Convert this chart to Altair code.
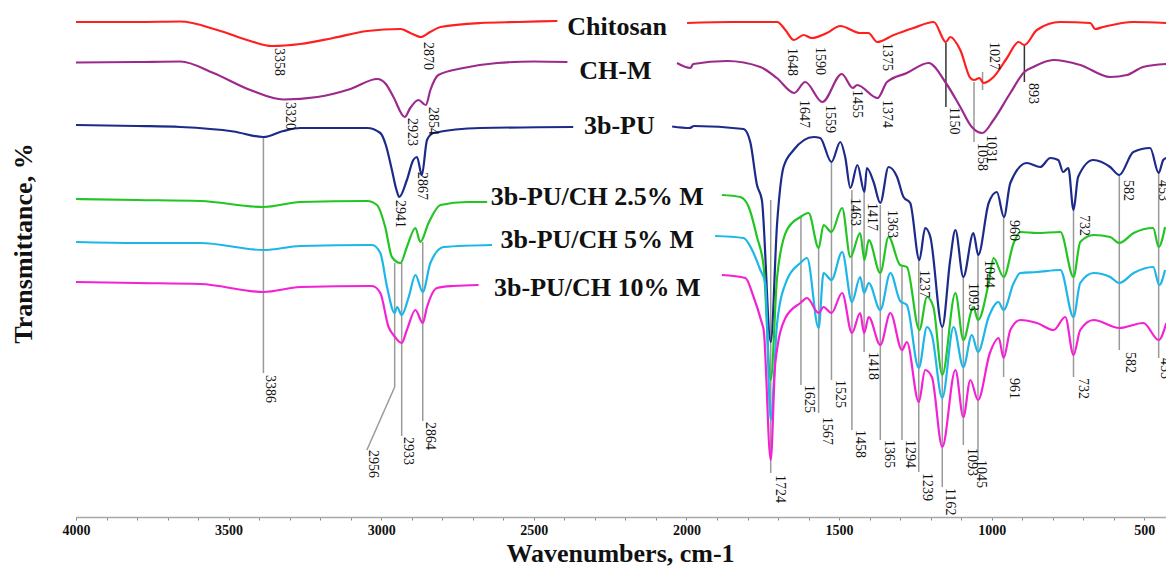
import altair as alt
import pandas as pd

# ---------------- spectra (wavenumber, transmittance in arbitrary offset units) -------------
chitosan_1_wn = [4000, 3800, 3658, 3537, 3429, 3358, 3265, 3157, 3046, 2937, 2905, 2870, 2840, 2806, 2675, 2550, 2423]
chitosan_1_t = [495, 495, 495.5, 487, 476, 471, 473, 479, 486, 488, 484, 480, 485, 490, 494, 495, 496]
chitosan_2_wn = [1998, 1850, 1703, 1676, 1648, 1616, 1590, 1540, 1496, 1431, 1404, 1375, 1321, 1256, 1190, 1150, 1136,
                 1103, 1070, 1058, 1040, 1027, 994, 950, 912, 893, 852, 776, 677, 661, 635, 536, 428]
chitosan_2_t = [494, 495, 495, 487, 477, 482, 479, 484, 491, 484, 484, 475, 482, 489, 495, 475, 480,
                467, 439, 437, 439, 434, 440, 459, 475, 472, 487, 495, 494, 488, 490, 495, 494]

chm_1_wn = [4000, 3800, 3658, 3550, 3429, 3320, 3209, 3101, 3013, 2985, 2960, 2923, 2905, 2878, 2854, 2839, 2813, 2731, 2620, 2500, 2390]
chm_1_t = [454.5, 455, 455.5, 444, 427, 417.5, 420, 428, 438, 433, 420, 400, 409, 417, 412, 427, 442, 449, 454, 455.5, 455]
chm_2_wn = [2031, 1987, 1978, 1867, 1758, 1704, 1647, 1611, 1555, 1491, 1455, 1441, 1374, 1343, 1278, 1207, 1150, 1103,
            1065, 1031, 994, 939, 893, 864, 798, 710, 612, 557, 504, 428]
chm_2_t = [454, 449, 453, 456, 450, 439, 424, 435, 415, 443, 429, 432, 419, 435, 444, 454, 434, 410,
           390, 384, 397, 424, 445, 450, 457, 452, 440, 442, 450, 453]

pu_1_wn = [4000, 3800, 3658, 3484, 3386, 3321, 3265, 3046, 3003, 2985, 2965, 2950, 2941, 2916, 2895, 2883, 2867, 2850, 2829, 2675, 2371]
pu_1_t = [392, 391, 390, 385.5, 380, 386, 389, 389, 384, 372, 347, 327, 320, 337, 357, 360, 342, 377, 384, 389, 390]
pu_2_wn = [2047, 1990, 1975, 1813, 1791, 1769, 1753, 1724, 1703, 1682, 1649, 1583, 1562, 1525, 1496, 1480, 1463, 1440, 1417, 1409,
           1387, 1365, 1338, 1310, 1289, 1267, 1237, 1218, 1201, 1162, 1136, 1119, 1093, 1060, 1044, 1010, 983, 960, 939, 885,
           841, 808, 782, 766, 749, 732, 717, 667, 612, 582, 536, 481, 453, 438, 428]
pu_2_t = [390.5, 389, 391, 388, 375, 332, 317, 175, 294, 350, 367, 380, 379, 355, 375, 360, 329, 352, 325, 349,
          335, 314, 350, 340, 320, 314, 257, 289, 280, 190, 257, 287, 240, 284, 262, 314, 325, 300, 334, 354,
          350, 359, 357, 345, 349, 307, 340, 357, 350, 342, 365, 369, 344, 357, 359]

m25_1_wn = [4000, 3800, 3592, 3386, 3265, 3046, 3014, 2987, 2965, 2937, 2916, 2888, 2872, 2845, 2806, 2719, 2653]
m25_1_t = [318, 317, 316, 310, 315, 316, 312, 290, 260, 254, 270, 289, 275, 294, 312, 315, 315]
m25_2_wn = [1884, 1824, 1796, 1769, 1747, 1724, 1703, 1671, 1627, 1600, 1567, 1551, 1525, 1490, 1463, 1431, 1417, 1403, 1365, 1338,
            1300, 1278, 1237, 1212, 1191, 1162, 1119, 1093, 1060, 1045, 1010, 994, 961, 928, 906, 852, 775, 732, 710, 666,
            612, 582, 535, 471, 453, 432]
m25_2_t = [322, 320, 310, 280, 250, 137, 240, 287, 300, 304, 269, 292, 285, 309, 260, 284, 257, 277, 244, 280,
           252, 250, 187, 220, 210, 142, 224, 177, 210, 197, 234, 259, 240, 274, 285, 284, 285, 240, 275, 282,
           280, 274, 284, 289, 270, 290]

m5_1_wn = [4000, 3800, 3593, 3386, 3265, 3030, 3003, 2981, 2956, 2948, 2933, 2910, 2888, 2864, 2839, 2795, 2637]
m5_1_t = [275, 274, 274, 267, 271, 272, 264, 230, 204, 210, 202, 220, 242, 225, 254, 270, 272]
m5_2_wn = [1906, 1813, 1785, 1758, 1742, 1724, 1703, 1671, 1627, 1605, 1567, 1551, 1525, 1490, 1458, 1431, 1418, 1403, 1365, 1332,
           1300, 1278, 1239, 1212, 1196, 1162, 1125, 1093, 1065, 1045, 1010, 978, 961, 928, 906, 852, 775, 732, 710, 666,
           612, 582, 535, 471, 451, 432]
m5_2_t = [281, 279, 267, 247, 234, 97, 194, 237, 254, 259, 189, 244, 237, 265, 215, 240, 224, 234, 207, 244,
          216, 212, 149, 190, 182, 119, 190, 150, 182, 165, 200, 215, 207, 234, 244, 245, 247, 200, 234, 244,
          240, 234, 244, 250, 232, 247]

m10_1_wn = [4000, 3800, 3593, 3386, 3265, 3030, 3003, 2976, 2960, 2933, 2916, 2888, 2864, 2850, 2817, 2763, 2681]
m10_1_t = [235, 234, 233, 225, 230, 231, 224, 190, 182, 174, 187, 207, 194, 210, 229, 231, 232]
m10_2_wn = [1884, 1807, 1780, 1753, 1747, 1724, 1709, 1676, 1627, 1605, 1567, 1551, 1525, 1490, 1458, 1431, 1418, 1403, 1365, 1332,
            1294, 1278, 1239, 1218, 1196, 1162, 1119, 1093, 1070, 1045, 1006, 977, 961, 939, 906, 852, 797, 759, 732, 710,
            666, 582, 503, 453, 428]
m10_2_t = [242, 239, 220, 194, 187, 57, 154, 199, 214, 219, 204, 210, 204, 224, 184, 204, 184, 200, 172, 204,
           167, 175, 115, 147, 140, 70, 147, 100, 137, 117, 164, 179, 159, 187, 197, 194, 187, 200, 162, 187,
           197, 189, 194, 177, 194]

series_names = ["Chitosan", "CH-M", "3b-PU", "3b-PU/CH 2.5% M", "3b-PU/CH 5% M", "3b-PU/CH 10% M"]
series_colors = ["#ff1f1f", "#9c2a8c", "#1c2a8a", "#22c522", "#1cb6e8", "#f322d2"]

segments = [
    ("Chitosan", 1, chitosan_1_wn, chitosan_1_t), ("Chitosan", 2, chitosan_2_wn, chitosan_2_t),
    ("CH-M", 1, chm_1_wn, chm_1_t), ("CH-M", 2, chm_2_wn, chm_2_t),
    ("3b-PU", 1, pu_1_wn, pu_1_t), ("3b-PU", 2, pu_2_wn, pu_2_t),
    ("3b-PU/CH 2.5% M", 1, m25_1_wn, m25_1_t), ("3b-PU/CH 2.5% M", 2, m25_2_wn, m25_2_t),
    ("3b-PU/CH 5% M", 1, m5_1_wn, m5_1_t), ("3b-PU/CH 5% M", 2, m5_2_wn, m5_2_t),
    ("3b-PU/CH 10% M", 1, m10_1_wn, m10_1_t), ("3b-PU/CH 10% M", 2, m10_2_wn, m10_2_t),
]

# ---------------- series name labels -------------
name_wn = [2227, 2233, 2220, 2292, 2292, 2292]
name_t = [490, 446, 391, 320, 277, 229]

# ---------------- peak labels -------------
peak_text = ["3358", "3320", "2870", "2923", "2854", "2941", "2867", "3386", "2956", "2933", "2864",
             "1648", "1590", "1375", "1027", "1647", "1559", "1455", "1374", "1150", "1058", "1031", "893",
             "582", "453", "1463", "1417", "1363", "1237", "1093", "1044", "960", "732",
             "1724", "1625", "1567", "1525", "1458", "1418", "1365", "1294", "1239", "1162", "1093", "1045",
             "961", "732", "582", "453"]
peak_wn = [3334, 3298, 2846, 2898, 2829, 2937, 2865, 3366, 3026, 2911, 2839,
           1654, 1562, 1343, 994, 1616, 1529, 1441, 1343, 1125, 1032, 1002, 865,
           553, 438, 1447, 1392, 1327, 1223, 1060, 1010, 928, 699,
           1693, 1597, 1540, 1496, 1431, 1390, 1338, 1267, 1212, 1136, 1065, 1034,
           928, 701, 546, 432]
peak_t = [469, 415, 475, 399, 410, 317, 345, 142, 67, 80, 95,
          469, 470, 474, 475, 417, 412, 427, 417, 410, 374, 382, 434,
          337, 337, 319, 314, 307, 247, 234, 257, 297, 302,
          42, 132, 100, 137, 87, 165, 77, 77, 44, 29, 69, 57,
          139, 139, 165, 159]

# ---------------- marker lines (start / end) -------------
guide_wn1 = [3386, 2956, 2956, 2933, 2864, 1724, 1625, 1567, 1525, 1458, 1418, 1365, 1294, 1239, 1162,
             1093, 1045, 961, 732, 582, 453, 1058, 1030, 1150, 893]
guide_t1 = [380, 254, 130, 254, 275, 317, 300, 269, 355, 327, 325, 312, 250, 257, 190,
            240, 262, 300, 307, 342, 344, 435, 445, 474, 472]
guide_wn2 = [3386, 2956, 3047, 2933, 2864, 1724, 1625, 1567, 1525, 1458, 1418, 1365, 1294, 1239, 1162,
             1093, 1045, 961, 732, 582, 453, 1058, 1030, 1150, 893]
guide_t2 = [144, 130, 67, 81, 96, 44, 132, 104, 137, 87, 165, 77, 77, 45, 30,
            72, 57, 140, 140, 167, 159, 375, 427, 410, 435]
guide_kind = ["gray"] * 23 + ["dark", "dark"]

tick_values = list(range(500, 4001, 100))

# ---------------- build tables -------------
rows = []
for name, seg, wns, ts in segments:
    for w, t in zip(wns, ts):
        rows.append({"wn": w, "T": t, "series": name, "seg": f"{name}-{seg}"})
spectra = pd.DataFrame(rows)
names = pd.DataFrame({"wn": name_wn, "T": name_t, "label": series_names})
peaks = pd.DataFrame({"wn": peak_wn, "T": peak_t, "label": peak_text})
guides = pd.DataFrame({"wn": guide_wn1, "T": guide_t1, "wn2": guide_wn2, "T2": guide_t2, "kind": guide_kind})

FONT = "Liberation Serif"

xscale = alt.Scale(domain=[429, 4000], reverse=True, nice=False, zero=False)
yscale = alt.Scale(domain=[0, 517], nice=False, zero=False)

x_axis = alt.Axis(values=tick_values, labelExpr="datum.value % 500 == 0 ? format(datum.value, 'd') : ''",
                  grid=False, domainColor="#a8a8a8", domainWidth=1.6, tickColor="#888888", tickSize=3,
                  tickWidth=1, labelFont=FONT, labelFontWeight="bold", labelFontSize=14, labelColor="#111111",
                  labelPadding=3, labelFlush=False, labelOverlap=False, labelBound=False,
                  title="Wavenumbers, cm-1", titleFont=FONT, titleFontWeight="bold", titleFontSize=26,
                  titleColor="#111111", titleX=544, titleY=36, titleBaseline="middle", titleAlign="center")
y_axis = alt.Axis(domain=False, ticks=False, labels=False, grid=False,
                  title="Transmittance, %", titleFont=FONT, titleFontWeight="bold", titleFontSize=26,
                  titleColor="#111111", titleX=-53, titleY=243, titleBaseline="middle", titleAlign="center",
                  titleAngle=270)

X = alt.X("wn:Q", scale=xscale, axis=x_axis)
Y = alt.Y("T:Q", scale=yscale, axis=y_axis)

guide_layer = alt.Chart(guides).mark_rule(strokeWidth=1.5).encode(
    x=X, y=Y,
    x2="wn2:Q",
    y2="T2:Q",
    color=alt.Color("kind:N", scale=alt.Scale(domain=["gray", "dark"], range=["#9a9a9a", "#333333"]), legend=None),
)

spectra_layer = alt.Chart(spectra).mark_line(strokeWidth=2.2, interpolate="monotone").encode(
    x=X, y=Y,
    color=alt.Color("series:N", scale=alt.Scale(domain=series_names, range=series_colors), legend=None),
    detail="seg:N",
)

name_layer = alt.Chart(names).mark_text(font=FONT, fontWeight="bold", fontSize=26, color="#111111",
                                        align="center", baseline="middle").encode(
    x=X, y=Y, text="label:N",
)

peak_layer = alt.Chart(peaks).mark_text(font=FONT, fontSize=14, color="#111111", angle=90,
                                        align="left", baseline="middle").encode(
    x=X, y=Y, text="label:N",
)

chart = alt.layer(guide_layer, spectra_layer, name_layer, peak_layer).resolve_scale(color="independent").properties(
    width=1090, height=517,
    autosize=alt.AutoSizeParams(type="none"),
    padding={"left": 76, "top": 0, "right": 0, "bottom": 56},
    background="white",
).configure_view(stroke=None).configure_axis(labelOverlap=False)

chart.save("out.html", embed_options={"renderer": "svg", "actions": False})
